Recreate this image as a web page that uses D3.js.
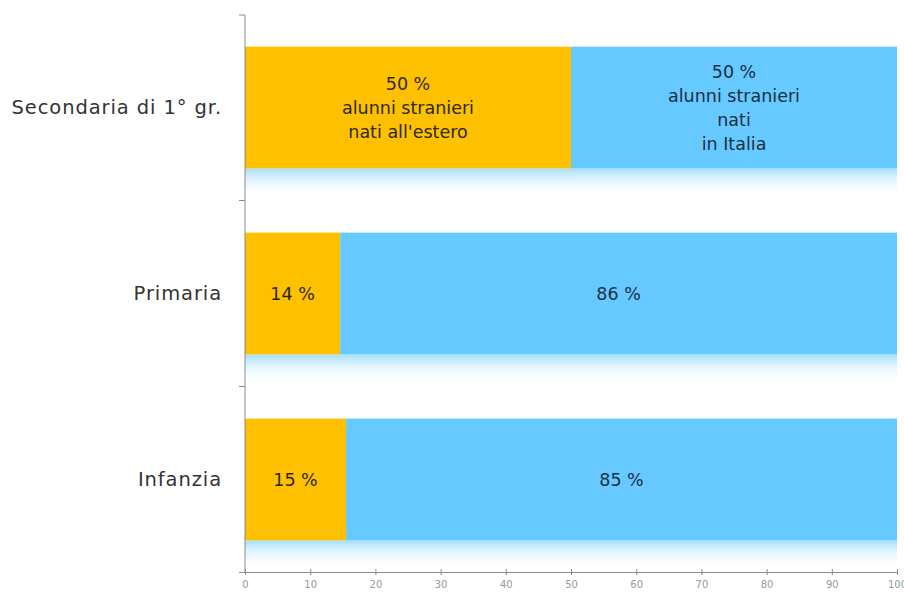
<!DOCTYPE html>
<html><head><meta charset="utf-8">
<script src="https://cdn.jsdelivr.net/npm/d3@7"></script>
<style>body{margin:0;background:#fff;} svg{display:block;}</style>
</head><body>
<script>
const categories = ["Secondaria di 1° gr.", "Primaria", "Infanzia"];
const natiEstero = [50, 14.6, 15.5];
const natiItalia = [50, 85.4, 84.5];
const labelsEstero = [["50 %", "alunni stranieri", "nati all'estero"], ["14 %"], ["15 %"]];
const labelsItalia = [["50 %", "alunni stranieri", "nati", "in Italia"], ["86 %"], ["85 %"]];
const xTicks = [0,10,20,30,40,50,60,70,80,90,100];

const W = 904, H = 592;
const m = {left:245, right:7, top:15, bottom:20};
const svg = d3.select("body").append("svg").attr("width", W).attr("height", H);
const font = "'Century Gothic', 'DejaVu Sans', sans-serif";

const x = d3.scaleLinear().domain([0,100]).range([m.left, W - m.right]);
const y = d3.scaleBand().domain(categories).range([m.top, H - m.bottom]).paddingInner(0.345).paddingOuter(0.17);

const defs = svg.append("defs");
const g = defs.append("linearGradient").attr("id","shadow").attr("x1",0).attr("x2",0).attr("y1",0).attr("y2",1);
g.append("stop").attr("offset","0%").attr("stop-color","#9adcfb").attr("stop-opacity",0.9);
g.append("stop").attr("offset","40%").attr("stop-color","#cfeefc").attr("stop-opacity",0.6);
g.append("stop").attr("offset","100%").attr("stop-color","#ffffff").attr("stop-opacity",0);

const data = categories.map((c,i)=>({c, a:natiEstero[i], b:natiItalia[i], la:labelsEstero[i], lb:labelsItalia[i]}));

svg.selectAll("rect.sh").data(data).join("rect").attr("class","sh")
  .attr("x", x(0)).attr("width", x(100)-x(0))
  .attr("y", d=>y(d.c)+y.bandwidth()).attr("height", 30)
  .attr("fill","url(#shadow)");

svg.selectAll("rect.a").data(data).join("rect").attr("class","a")
  .attr("x", x(0)).attr("width", d=>x(d.a)-x(0))
  .attr("y", d=>y(d.c)).attr("height", y.bandwidth()).attr("fill","#FFC000");
svg.selectAll("rect.b").data(data).join("rect").attr("class","b")
  .attr("x", d=>x(d.a)).attr("width", d=>x(d.a+d.b)-x(d.a))
  .attr("y", d=>y(d.c)).attr("height", y.bandwidth()).attr("fill","#66C9FF");

function addLabel(lines, cx, cy, color){
  const lh = 24;
  const t = svg.append("text").attr("text-anchor","middle").attr("font-family",font)
    .attr("font-size",17.5).attr("fill",color);
  const y0 = cy - (lines.length-1)*lh/2;
  lines.forEach((l,i)=>t.append("tspan").attr("x",cx).attr("y",y0+i*lh).attr("dy","0.35em").text(l));
}
data.forEach(d=>{
  const cy = y(d.c)+y.bandwidth()/2;
  addLabel(d.la, (x(0)+x(d.a))/2, cy, "#2a2a1a");
  addLabel(d.lb, (x(d.a)+x(d.a+d.b))/2, cy, "#1c2f44");
});

const yAxis = svg.append("g").attr("transform",`translate(${m.left},0)`);
yAxis.append("line").attr("x1",0).attr("x2",0).attr("y1",m.top).attr("y2",H-m.bottom).attr("stroke","#8a8a8a");
const bandEdges = [m.top, ...categories.map(c=>y(c)+y.bandwidth()+y.step()*y.paddingInner()/2)];
yAxis.selectAll("line.t").data(bandEdges).join("line").attr("class","t")
  .attr("x1",-6).attr("x2",0).attr("y1",d=>d).attr("y2",d=>d).attr("stroke","#8a8a8a");
svg.selectAll("text.cat").data(categories).join("text").attr("class","cat")
  .attr("x",222).attr("y",c=>y(c)+y.bandwidth()/2).attr("dy","0.35em")
  .attr("text-anchor","end").attr("font-family",font).attr("font-size",19.5)
  .attr("letter-spacing","0.9px").attr("fill","#333")
  .text(c=>c);

const xa = svg.append("g").attr("transform",`translate(0,${H-m.bottom})`)
  .call(d3.axisBottom(x).tickValues(xTicks).tickSize(4).tickSizeOuter(0));
xa.select(".domain").attr("stroke","#8a8a8a");
xa.selectAll(".tick line").attr("stroke","#8a8a8a").attr("y1",-3).attr("y2",3);
xa.selectAll(".tick text").attr("fill","#999").attr("font-family",font).attr("font-size",10).attr("y",9);
</script>
</body></html>
